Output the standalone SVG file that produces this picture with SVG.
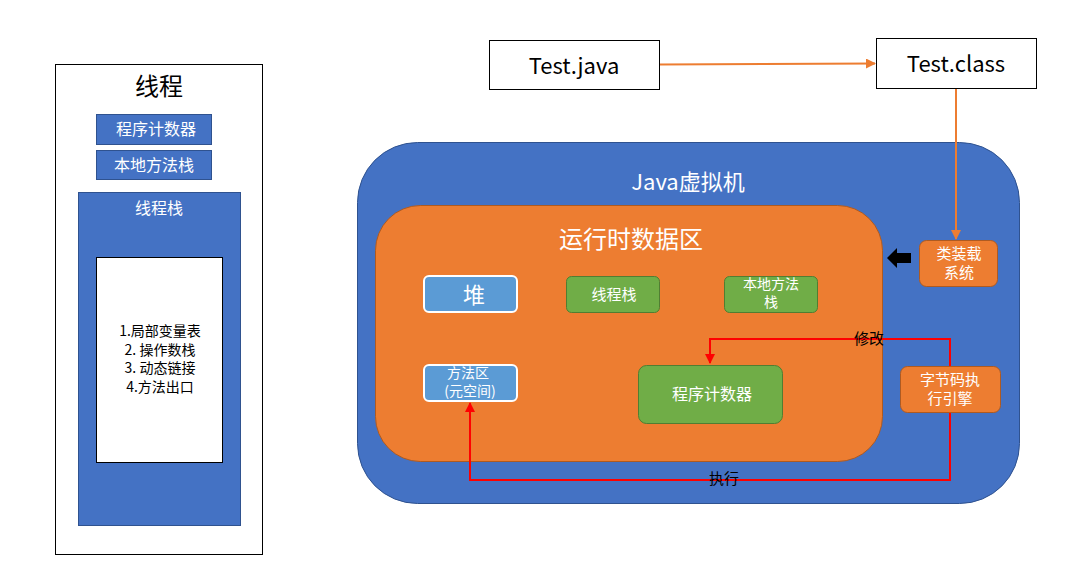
<svg xmlns="http://www.w3.org/2000/svg" width="1092" height="575" viewBox="0 0 1092 575">
<defs>
<style>
text{font-family:"Noto Sans CJK SC","Liberation Sans",sans-serif;text-anchor:middle;dominant-baseline:central}
.w{fill:#fff}
.k{fill:#000}
.blue{fill:#4472C4;stroke:#2F528F;stroke-width:1}
.lb{fill:#5B9BD5;stroke:#fff;stroke-width:2}
.gr{fill:#70AD47;stroke:#507E32;stroke-width:1}
.or{fill:#ED7D31;stroke:#AE5A21;stroke-width:1}
.box{fill:#fff;stroke:#000;stroke-width:1}
.red{fill:none;stroke:#FF0000;stroke-width:2}
.oa{fill:none;stroke:#ED7D31;stroke-width:2}
</style>
<marker id="ao" viewBox="0 0 10 10" refX="9" refY="5" markerWidth="5" markerHeight="5" orient="auto"><path d="M0,0L10,5L0,10z" fill="#ED7D31"/></marker>
<marker id="ar" viewBox="0 0 10 10" refX="9" refY="5" markerWidth="5" markerHeight="5" orient="auto"><path d="M0,0L10,5L0,10z" fill="#FF0000"/></marker>
</defs>
<rect width="1092" height="575" fill="#fff"/>
<g id="thread">
<rect x="55.5" y="64.5" width="207" height="490" class="box"/>
<text x="159" y="84" font-size="24" class="k">线程</text>
</g>
<g id="thread-pc">
<rect x="96.5" y="114.5" width="115" height="30" class="blue"/>
<text x="156" y="128" font-size="16" class="w">程序计数器</text>
</g>
<g id="thread-native">
<rect x="96.5" y="150.5" width="115" height="29" class="blue"/>
<text x="154" y="164" font-size="16" class="w">本地方法栈</text>
</g>
<g id="thread-stack">
<rect x="78.5" y="192.5" width="162" height="333" class="blue"/>
<text x="159" y="207" font-size="16" class="w">线程栈</text>
</g>
<g id="frame">
<rect x="96.5" y="257.5" width="126" height="205" class="box"/>
<text x="160" y="330" font-size="14" class="k">1.局部变量表</text>
<text x="160" y="349" font-size="14" class="k">2. 操作数栈</text>
<text x="160" y="367" font-size="14" class="k">3. 动态链接</text>
<text x="160" y="386" font-size="14" class="k">4.方法出口</text>
</g>
<g id="test-java">
<rect x="489.5" y="40.5" width="170" height="49" class="box"/>
<text x="574" y="64" font-size="22" class="k">Test.java</text>
</g>
<g id="test-class">
<rect x="876.5" y="38.5" width="160" height="50" class="box"/>
<text x="956" y="62" font-size="22" class="k">Test.class</text>
</g>
<g id="jvm">
<rect x="357.5" y="142.5" width="662" height="361" rx="60" class="blue"/>
<text x="688" y="180" font-size="22" class="w">Java虚拟机</text>
</g>
<g id="runtime">
<rect x="375.5" y="205.5" width="507" height="256" rx="45" class="or"/>
<text x="631" y="237" font-size="24" class="w">运行时数据区</text>
</g>
<g id="heap">
<rect x="424" y="276" width="93" height="36" rx="5" class="lb"/>
<text x="474" y="293" font-size="22" class="w">堆</text>
</g>
<g id="vm-stack">
<rect x="566.5" y="276.5" width="93" height="36" rx="5" class="gr"/>
<text x="614" y="293" font-size="15" class="w">线程栈</text>
</g>
<g id="native-stack">
<rect x="724.5" y="276.5" width="93" height="36" rx="5" class="gr"/>
<text x="771" y="283" font-size="14" class="w">本地方法</text>
<text x="771" y="301" font-size="14" class="w">栈</text>
</g>
<g id="method-area">
<rect x="424" y="365" width="93" height="36" rx="5" class="lb"/>
<text x="468" y="372" font-size="14" class="w">方法区</text>
<text x="470" y="390" font-size="14" class="w">(元空间)</text>
</g>
<g id="pc">
<rect x="638.5" y="365.5" width="144" height="58" rx="8" class="gr"/>
<text x="712" y="393" font-size="16" class="w">程序计数器</text>
</g>
<g id="classloader">
<rect x="919.5" y="240.5" width="78" height="46" rx="7" class="or"/>
<text x="959" y="252" font-size="15" class="w">类装载</text>
<text x="959" y="271" font-size="15" class="w">系统</text>
</g>
<g id="engine">
<rect x="900.5" y="366.5" width="100" height="46" rx="7" class="or"/>
<text x="950" y="378" font-size="15" class="w">字节码执</text>
<text x="950" y="397" font-size="15" class="w">行引擎</text>
</g>
<g id="connectors">
<line x1="660" y1="64.5" x2="875" y2="63.5" class="oa" marker-end="url(#ao)"/>
<line x1="956" y1="89" x2="956" y2="239" class="oa" stroke-width="1.5" marker-end="url(#ao)"/>
<path d="M911,253 L897,253 L897,248 L887,258 L897,268 L897,263 L911,263 z" fill="#000"/>
<path d="M950,366 V339 H710 V363" class="red" marker-end="url(#ar)"/>
<path d="M950,413 V480 H470 V403" class="red" marker-end="url(#ar)"/>
<text x="869" y="337" font-size="15" class="k">修改</text>
<text x="724" y="477" font-size="15" class="k">执行</text>
</g>
</svg>
